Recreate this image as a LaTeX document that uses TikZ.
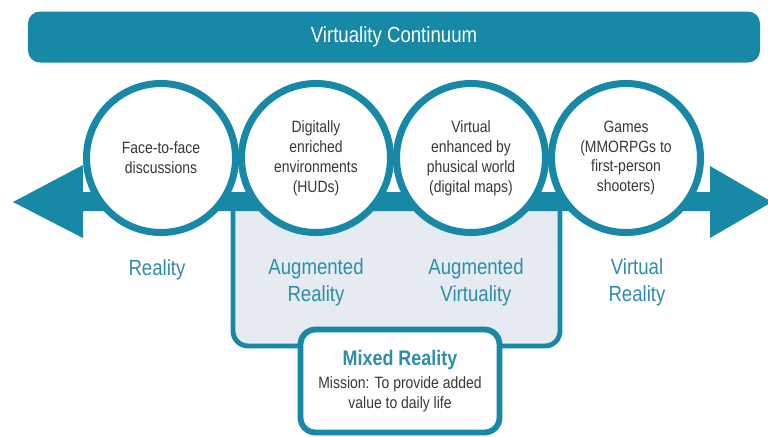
\documentclass[tikz,border=0pt]{standalone}
\usepackage{fontspec}
\setmainfont{Liberation Sans}[FakeStretch=0.85]
\begin{document}
\begin{tikzpicture}[x=0.03cm, y=-0.03cm]
    \definecolor{tealColour}{HTML}{1789A6}
    \definecolor{labelColour}{HTML}{2E8DAA}
    \definecolor{fillColourAR}{HTML}{E5EBF0}
    \definecolor{textColour}{HTML}{383838}

    \def\circleFont{\fontsize{14}{17}\selectfont}
    \def\labelFont{\fontsize{18.7}{23}\selectfont}

    \tikzset{
        stage/.style={circle, draw=tealColour, fill=white, line width=6pt, minimum size=4.47cm,
            inner sep=0pt, align=center, text=textColour, font=\circleFont},
        zone/.style={align=center, text=labelColour, font=\labelFont}
    }

    \useasboundingbox (0,0) rectangle (768,436);

    % Draw title bar
    \node[fill=tealColour, rounded corners=0.36cm, minimum width=21.96cm, minimum height=1.53cm,
        text=white, font=\labelFont] (title) at (394,37) {Virtuality Continuum};

    % Draw augmented region
    \draw[fill=fillColourAR, draw=tealColour, line width=4.2pt, rounded corners=0.45cm]
        (233,200) -- (233,346) -- (560,346) -- (560,200);

    % Draw double arrow
    \coordinate (leftTip) at (13,202);
    \coordinate (rightTip) at (772,202);
    \fill[tealColour] (leftTip) -- (83,165) -- (83,192) -- (710,192) -- (710,166) -- (rightTip)
        -- (710,238) -- (710,211) -- (83,211) -- (83,238) -- cycle;

    % Draw circles
    \node[stage] (face) at (161,158) {Face-to-face\\discussions};
    \node[stage] (digital) at (316,158) {Digitally\\enriched\\environments\\(HUDs)};
    \node[stage] (virtual) at (471,158) {Virtual\\enhanced by\\phusical world\\(digital maps)};
    \node[stage] (games) at (626,158) {Games\\(MMORPGs to\\first-person\\shooters)};

    % Label zones
    \node[zone] (reality) at (157,270) {Reality};
    \node[zone] (augReality) at (316,282) {Augmented\\Reality};
    \node[zone] (augVirtuality) at (476,282) {Augmented\\Virtuality};
    \node[zone] (virtReality) at (637,282) {Virtual\\Reality};

    % Mixed reality box
    \node[draw=tealColour, fill=white, line width=5pt, rounded corners=0.45cm, minimum width=5.97cm,
        minimum height=3.09cm, align=center, text=textColour, font=\circleFont] (mixed) at (400,381)
        {{\fontsize{18}{21}\selectfont\bfseries\color{labelColour}Mixed Reality}\\[2pt]
        Mission: To provide added\\value to daily life};

\end{tikzpicture}
\end{document}
